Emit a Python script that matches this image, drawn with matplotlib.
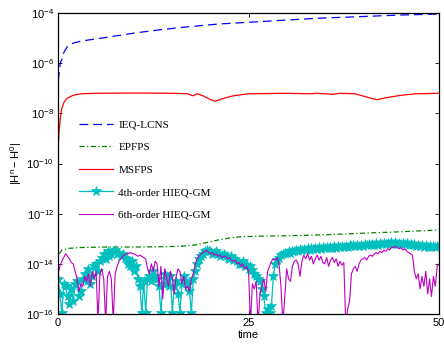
import matplotlib
matplotlib.use("Agg")
import matplotlib.pyplot as plt
import numpy as np

plt.rcParams['font.family'] = ['Liberation Sans', 'DejaVu Sans']
plt.rcParams['mathtext.fontset'] = 'custom'
plt.rcParams['mathtext.rm'] = 'Liberation Sans'

# IEQ-LCNS (blue dashed): time and log10 error
ieq_t = [0.03, 0.3, 0.5, 0.8, 1.2, 2.0, 3.0, 5.5, 10, 12, 16, 21, 25, 30, 34, 40, 45, 50]
ieq_log = [-6.7, -6.0, -5.85, -5.55, -5.35, -5.2, -5.12, -5.01, -4.8, -4.72, -4.58,
           -4.44, -4.37, -4.28, -4.21, -4.14, -4.08, -4.04]

# MSFPS (red)
ms_t = [0.02, 0.15, 0.3, 0.5, 0.8, 1.2, 2, 3, 5, 10, 15, 17, 17.7, 18.3, 19, 20, 20.6,
        21.5, 23, 25, 30, 33, 34, 36, 37, 39, 40.5, 41.8, 43, 45, 47, 50]
ms_log = [-9.4, -8.7, -8.2, -7.8, -7.55, -7.4, -7.28, -7.22, -7.2, -7.19, -7.2, -7.22,
          -7.3, -7.22, -7.3, -7.45, -7.52, -7.42, -7.3, -7.22, -7.2, -7.22, -7.2, -7.24,
          -7.2, -7.22, -7.35, -7.46, -7.38, -7.28, -7.22, -7.2]

# EPFPS (green dash-dot)
ep_t = [0.2, 0.5, 1.5, 3, 6, 10, 13, 16, 18, 19.5, 21, 22.5, 24, 26, 30, 33, 36, 40, 45, 50]
ep_log = [-13.6, -13.45, -13.38, -13.35, -13.33, -13.33, -13.32, -13.3, -13.25, -13.15,
          -13.05, -12.97, -12.92, -12.9, -12.88, -12.86, -12.83, -12.78, -12.72, -12.65]

# 4th-order HIEQ-GM (cyan, stars), t = 0, 0.25, ..., 50
h4_t = np.arange(0, 50.01, 0.25)
h4_log = [-14.6, -15.2, -15.95, -14.8,
          -14.9, -15.3, -15.6, -15.0,
          -15.5, -14.8, -14.7, -15.3,
          -15.1, -14.6, -14.4, -14.7,
          -14.2, -14.8, -14.5, -14.1,
          -14.0, -14.3, -13.9, -13.75,
          -13.6, -13.8, -13.5, -13.7,
          -13.6, -13.5, -13.45, -13.6,
          -13.55, -13.7, -13.6, -13.75,
          -13.8, -14.0, -14.1, -13.9,
          -14.3, -14.1, -14.6, -14.9,
          -15.95, -14.7, -15.95, -14.6,
          -14.5, -14.7, -14.3, -14.5,
          -14.6, -14.9, -15.95, -14.8,
          -14.4, -14.6, -14.9, -14.5,
          -15.95, -14.9, -14.7, -15.2,
          -15.95, -14.8, -14.5, -14.7,
          -14.8, -15.1, -15.95, -14.6,
          -14.3, -14.0, -13.8, -13.7,
          -13.6, -13.5, -13.45, -13.5,
          -13.5, -13.6, -13.55, -13.5,
          -13.6, -13.7, -13.65, -13.6,
          -13.7, -13.75, -13.8, -13.7,
          -13.85, -13.8, -13.9, -14.0,
          -14.0, -13.9, -14.1, -14.05,
          -14.2, -14.1, -14.25, -14.4,
          -14.5, -14.6, -14.7, -15.0,
          -15.3, -15.95, -15.8, -15.95,
          -15.7, -14.5, -14.0, -13.85,
          -13.75, -13.65, -13.6, -13.55,
          -13.58, -13.5, -13.55, -13.48,
          -13.5, -13.44, -13.49, -13.42,
          -13.46, -13.4, -13.45, -13.38,
          -13.43, -13.37, -13.42, -13.35,
          -13.4, -13.34, -13.39, -13.33,
          -13.38, -13.32, -13.37, -13.31,
          -13.36, -13.3, -13.35, -13.29,
          -13.34, -13.28, -13.33, -13.27,
          -13.32, -13.26, -13.3, -13.25,
          -13.3, -13.24, -13.28, -13.23,
          -13.27, -13.22, -13.26, -13.2,
          -13.25, -13.19, -13.24, -13.18,
          -13.23, -13.17, -13.22, -13.16,
          -13.21, -13.15, -13.2, -13.14,
          -13.2, -13.14, -13.19, -13.15,
          -13.2, -13.16, -13.22, -13.18,
          -13.24, -13.2, -13.26, -13.22,
          -13.28, -13.23, -13.3, -13.25,
          -13.31, -13.26, -13.32, -13.27,
          -13.33, -13.27, -13.32, -13.28,
          -13.3]

# 6th-order HIEQ-GM (magenta), t = 0, 0.25, ..., 50
h6_t = np.arange(0, 50.01, 0.25)
h6_log = [-14.4, -14.1, -13.9, -13.75, -13.6, -13.7, -13.8, -13.95,
          -14.0, -14.3, -14.6, -15.1, -14.8, -14.9, -14.5, -14.7,
          -14.4, -14.9, -14.3, -14.6, -14.3, -16.3, -14.4, -14.2,
          -14.6, -16.3, -14.5, -14.3, -14.6, -16.3, -14.4, -14.1,
          -13.9, -13.8, -13.7, -13.65, -13.6, -13.6, -13.55, -13.6,
          -13.6, -13.65, -13.7, -13.65, -13.7, -13.75, -13.8, -14.2,
          -14.4, -14.0, -14.3, -13.9, -14.0, -14.9, -14.1, -15.4,
          -14.2, -14.6, -14.9, -14.3, -14.6, -15.2, -14.5, -14.2,
          -14.3, -14.8, -14.5, -15.0, -14.9, -15.1, -14.6, -14.4,
          -14.0, -13.8, -13.7, -13.6, -13.55, -13.5, -13.45, -13.55,
          -13.6, -13.55, -13.65, -13.6, -13.7, -13.65, -13.75, -13.7,
          -13.7, -13.8, -13.75, -13.85, -13.9, -13.85, -14.0, -13.95,
          -14.1, -14.0, -14.2, -14.1, -14.3, -16.4, -14.8, -15.0,
          -14.7, -16.4, -15.2, -14.9, -14.6, -15.1, -14.3, -14.1,
          -13.9, -13.8, -13.85, -13.75, -14.0, -14.9, -16.4, -15.3,
          -14.2, -14.6, -14.7, -14.1, -13.9, -13.85, -14.0, -14.5,
          -13.9, -13.65, -13.8, -13.6, -13.85, -13.7, -14.0, -13.8,
          -13.65, -13.85, -13.7, -13.95, -14.0, -13.75, -14.1, -13.85,
          -13.75, -13.95, -13.8, -14.1, -13.9, -14.05, -13.95, -16.4,
          -15.8, -15.5, -14.4, -14.2, -14.1, -14.3, -14.0, -13.85,
          -13.8, -13.75, -13.85, -13.7, -13.65, -13.7, -13.6, -13.55,
          -13.6, -13.5, -13.55, -13.45, -13.5, -13.4, -13.45, -13.35,
          -13.35, -13.3, -13.35, -13.4, -13.35, -13.45, -13.4, -13.5,
          -13.55, -13.6, -13.65, -14.3, -14.6, -14.4, -15.0, -14.5,
          -14.9, -14.3, -15.2, -14.6, -15.3, -14.5, -14.9, -14.1,
          -14.0]

fig = plt.figure(figsize=(4.44, 3.47), dpi=100)
ax = fig.add_axes([0.1306, 0.0951, 0.8584, 0.8674])

ax.plot(ieq_t, 10.0 ** np.array(ieq_log), color='b', linestyle=(0, (7, 4)), lw=0.9, label='IEQ-LCNS')
ax.plot(ep_t, 10.0 ** np.array(ep_log), color='g', linestyle=(0, (4, 2, 1, 2)), lw=0.9, label='EPFPS')
ax.plot(ms_t, 10.0 ** np.array(ms_log), color='r', lw=0.9, label='MSFPS')
ax.plot(h4_t, 10.0 ** np.array(h4_log), color='c', lw=0.9, marker='*', ms=7,
        markerfacecolor='c', markeredgewidth=0.5, label='4th-order HIEQ-GM')
ax.plot(h6_t, 10.0 ** np.array(h6_log), color='m', lw=0.8, label='6th-order HIEQ-GM')

ax.set_yscale('log')
ax.set_xlim(0, 50)
ax.set_ylim(1e-16, 1e-4)
ax.set_yticks([1e-16, 1e-14, 1e-12, 1e-10, 1e-8, 1e-6, 1e-4])
ax.minorticks_off()
ax.set_xticks([0, 25, 50])
ax.tick_params(direction='in', length=3, width=0.6, labelsize=8, top=True, right=True, pad=3)
for s in ax.spines.values():
    s.set_linewidth(0.9)

ax.set_xlabel('time', fontsize=8, labelpad=1)
ax.set_ylabel(r'$\mathdefault{|H^n-H^0|}$', fontsize=8, labelpad=2)

leg = ax.legend(loc='upper left', bbox_to_anchor=(0.055, 0.645), frameon=False,
                prop={'family': 'Liberation Serif', 'size': 8}, borderpad=0, borderaxespad=0,
                labelspacing=1.15, handlelength=3.1, handletextpad=0.45)

fig.savefig('out.png', dpi=100)
